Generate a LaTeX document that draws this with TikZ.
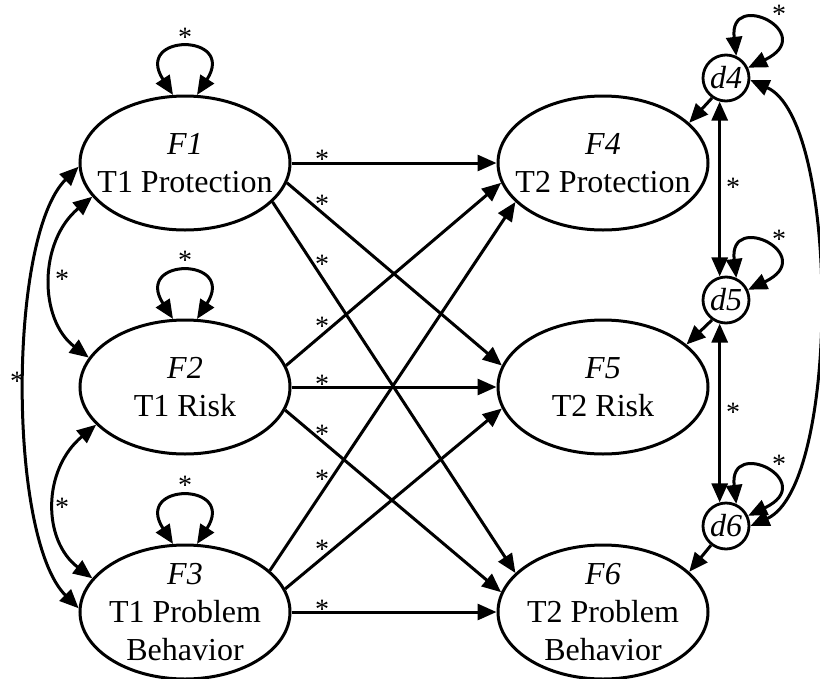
\documentclass[tikz,border=0pt]{standalone}
\usepackage{fontspec}
\setmainfont{Liberation Serif}
\usetikzlibrary{arrows.meta,shapes.geometric,calc}
\begin{document}
\begin{tikzpicture}[x=1pt,y=-1pt,
  fac/.style={draw, ellipse, line width=3pt, minimum width=210pt, minimum height=134pt, inner sep=0pt},
  dist/.style={draw, circle, line width=2.8pt, minimum size=46pt, inner sep=0pt, font=\fontsize{32}{36}\selectfont\itshape},
  lab/.style={align=center, font=\fontsize{32}{38}\selectfont, inner sep=0pt},
  star/.style={font=\fontsize{28}{28}\selectfont, inner sep=0pt, yshift=-4pt},
  tip/.tip={Triangle[length=19pt,width=16pt]},
  conn/.style={line width=3pt, -tip},
  dbl/.style={line width=3pt, tip-tip},
]
\useasboundingbox (0,0) rectangle (820,678);

% factors
\node[fac] (F1) at (185,163) {};
\node[fac] (F2) at (185,387) {};
\node[fac] (F3) at (185,612) {};
\node[fac] (F4) at (603,163) {};
\node[fac] (F5) at (603,387) {};
\node[fac] (F6) at (603,612) {};
\node[lab] (F1t) at (F1) {\textit{F1}\\T1 Protection};
\node[lab] (F2t) at (F2) {\textit{F2}\\T1 Risk};
\node[lab] (F3t) at (F3) {\textit{F3}\\T1 Problem\\Behavior};
\node[lab] (F4t) at (F4) {\textit{F4}\\T2 Protection};
\node[lab] (F5t) at (F5) {\textit{F5}\\T2 Risk};
\node[lab] (F6t) at (F6) {\textit{F6}\\T2 Problem\\Behavior};

% disturbances
\node[dist] (d4) at (726,78) {d4};
\node[dist] (d5) at (726,300) {d5};
\node[dist] (d6) at (726,526) {d6};

% structural paths
\draw[conn] (F1.east) -- (F4.west);
\draw[conn] (F1.-11) -- (F5.168);
\draw[conn] (F1.-24) -- (F6.156);
\draw[conn] (F2.12) -- (F4.191);
\draw[conn] (F2.east) -- (F5.west);
\draw[conn] (F2.-13) -- (F6.169);
\draw[conn] (F3.26) -- (F4.204);
\draw[conn] (F3.13) -- (F5.192);
\draw[conn] (F3.east) -- (F6.west);

% disturbances to factors
\draw[conn] (d4.235) -- (F4.25);
\draw[conn] (d5.235) -- (F5.27);
\draw[conn] (d6.232) -- (F6.25);

% disturbance covariances
\draw[dbl] (d4.255) -- (d5.105);
\draw[dbl] (d5.255) -- (d6.105);
\draw[dbl] (d4.-5) .. controls +(90,40) and +(90,-40) .. (d6.0);

% disturbance variances
\draw[dbl] (d4.65) .. controls +(-8,-68) and +(72,-34) .. (d4.25);
\draw[dbl] (d5.65) .. controls +(-8,-68) and +(72,-34) .. (d5.25);
\draw[dbl] (d6.65) .. controls +(-8,-68) and +(72,-34) .. (d6.25);

% factor variances
\draw[dbl] (F1.100) .. controls +(-40,-62) and +(40,-62) .. (F1.80);
\draw[dbl] (F2.100) .. controls +(-40,-62) and +(40,-62) .. (F2.80);
\draw[dbl] (F3.100) .. controls +(-40,-62) and +(40,-62) .. (F3.80);

% factor covariances
\draw[dbl] (F1.200) .. controls +(-54,45) and +(-50,-38) .. (F2.163);
\draw[dbl] (F2.203) .. controls +(-54,45) and +(-50,-38) .. (F3.160);
\draw[dbl] (F1.182) .. controls +(-71,70) and +(-71,-70) .. (F3.178);

% stars
\node[star] (s14) at (322,155) {*};
\node[star] (s15) at (322,200) {*};
\node[star] (s16) at (322,260) {*};
\node[star] (s24) at (322,322) {*};
\node[star] (s25) at (322,380) {*};
\node[star] (s26) at (322,430) {*};
\node[star] (s34) at (322,475) {*};
\node[star] (s35) at (322,545) {*};
\node[star] (s36) at (322,605) {*};
\node[star] (v1) at (185,33) {*};
\node[star] (v2) at (185,256) {*};
\node[star] (v3) at (185,481) {*};
\node[star] (c12) at (62,275) {*};
\node[star] (c23) at (62,503) {*};
\node[star] (c13) at (17,377) {*};
\node[star] (c45) at (733,183) {*};
\node[star] (c56) at (733,408) {*};
\node[star] (v4) at (779,10) {*};
\node[star] (v5) at (779,235) {*};
\node[star] (v6) at (779,460) {*};
\end{tikzpicture}
\end{document}
